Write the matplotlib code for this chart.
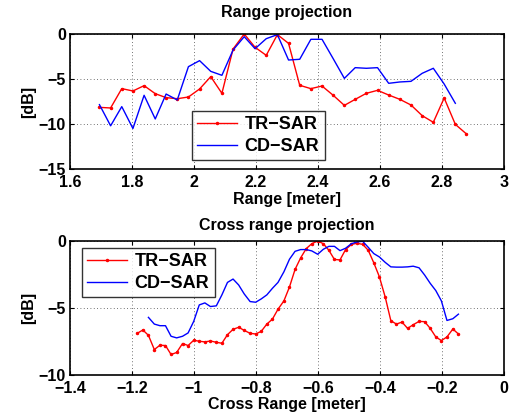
import matplotlib
matplotlib.use("Agg")
import matplotlib.pyplot as plt

plt.rcParams['font.family'] = ['Liberation Sans', 'DejaVu Sans']
plt.rcParams['font.weight'] = 'bold'

# ---- Range projection data ----
range_x = [1.695, 1.731, 1.767, 1.803, 1.839, 1.875, 1.910, 1.946, 1.982, 2.018,
           2.054, 2.090, 2.126, 2.162, 2.197, 2.233, 2.269, 2.305, 2.341, 2.377,
           2.413, 2.449, 2.485, 2.520, 2.556, 2.592, 2.628, 2.664, 2.700, 2.736,
           2.772, 2.807, 2.843, 2.879]
range_tr = [-8.15, -8.22, -6.07, -6.33, -5.74, -6.63, -7.07, -7.19, -7.00, -6.11,
            -4.74, -6.59, -1.67, 0.00, -1.48, -2.37, -0.07, -1.04, -5.70, -6.07,
            -5.78, -6.81, -7.93, -7.26, -6.59, -6.26, -6.78, -7.26, -7.89, -9.07,
            -9.81, -7.11, -10.04, -11.11]
range_cd = [-7.85, -10.20, -8.07, -10.50, -6.81, -9.44, -6.67, -7.33, -3.63, -2.96,
            -4.15, -4.59, -1.78, -0.30, -1.63, -0.52, -0.07, -2.89, -2.81, -0.59,
            -0.59, -2.74, -4.93, -3.74, -3.81, -3.74, -5.48, -5.33, -5.26, -4.37,
            -3.81, -5.56, -7.70]

# ---- Cross range projection data ----
cross_x = [-1.183, -1.165, -1.147, -1.128, -1.110, -1.092, -1.074, -1.056, -1.037, -1.019,
           -1.001, -0.983, -0.965, -0.947, -0.928, -0.910, -0.892, -0.874, -0.856, -0.838,
           -0.819, -0.801, -0.783, -0.765, -0.747, -0.729, -0.710, -0.692, -0.674, -0.656,
           -0.638, -0.620, -0.601, -0.583, -0.565, -0.547, -0.529, -0.511, -0.492, -0.474,
           -0.456, -0.438, -0.420, -0.402, -0.383, -0.365, -0.347, -0.329, -0.311, -0.293,
           -0.274, -0.256, -0.238, -0.220, -0.202, -0.184, -0.165, -0.147]
cross_tr = [-6.89, -6.64, -7.04, -8.10, -7.78, -7.80, -8.47, -8.32, -7.65, -7.80,
            -7.41, -7.48, -7.53, -7.46, -7.56, -7.63, -6.99, -6.59, -6.44, -6.67,
            -6.89, -6.94, -6.74, -6.20, -5.83, -5.09, -4.47, -3.43, -2.12, -1.26,
            -0.57, -0.20, 0.00, -0.20, -0.69, -1.38, -1.41, -0.64, -0.25, -0.17,
            -0.25, -0.69, -1.63, -2.67, -4.20, -5.95, -6.20, -6.05, -6.52, -6.25,
            -6.00, -6.02, -6.52, -7.16, -7.43, -7.16, -6.57, -6.94]
cross_cd = [-5.70, -6.20, -6.32, -6.32, -7.11, -7.23, -7.11, -6.86, -6.00, -4.77,
            -4.62, -4.89, -4.84, -4.02, -3.09, -2.84, -3.28, -3.95, -4.52, -4.57,
            -4.32, -4.02, -3.53, -3.09, -2.30, -1.36, -0.77, -0.64, -0.64, -0.74,
            -0.99, -0.62, -0.40, -0.40, -0.72, -0.54, -0.20, -0.07, -0.02, -0.47,
            -0.94, -1.19, -1.60, -1.93, -1.95, -1.95, -1.93, -1.88, -2.00, -2.54,
            -3.16, -3.70, -4.47, -5.93, -5.80, -5.46]

W, H = 513, 416
fig = plt.figure(figsize=(W / 100, H / 100), dpi=100)

def ax_rect(l, t, r, b):
    return [l / W, 1 - b / H, (r - l) / W, (b - t) / H]

ax1 = fig.add_axes(ax_rect(70, 34, 504, 169))
ax2 = fig.add_axes(ax_rect(70, 241, 504, 375))

fs = 11.5

def style(ax):
    ax.grid(True, linestyle=(0, (1, 3)), color='#444444', linewidth=0.6)
    ax.tick_params(direction='in', top=True, right=True, labelsize=fs, length=3,
                   width=0.8)
    ax.tick_params(axis='x', pad=4)
    ax.tick_params(axis='y', pad=3)
    for s in ax.spines.values():
        s.set_linewidth(1.2)
    for lab in ax.get_xticklabels() + ax.get_yticklabels():
        lab.set_fontweight('bold')

def legend(ax, x, y):
    leg = ax.legend(loc='upper left', bbox_to_anchor=(x, y),
                    fontsize=13, frameon=True, fancybox=False, edgecolor='black',
                    borderpad=0.3, handlelength=2.2, handletextpad=0.4,
                    labelspacing=0.25, borderaxespad=0)
    leg.get_frame().set_linewidth(1.0)
    for t in leg.get_texts():
        t.set_fontweight('bold')
    return leg

ax1.plot(range_x, range_tr, color='red', marker='.', markersize=3, linewidth=1.0, label='TR\u2212SAR')
ax1.plot(range_x[:len(range_cd)], range_cd, color='blue', linewidth=1.0, label='CD\u2212SAR')
ax1.set_xlim(1.6, 3.0)
ax1.set_ylim(-15, 0)
ax1.set_xticks([1.6, 1.8, 2.0, 2.2, 2.4, 2.6, 2.8, 3.0])
ax1.set_xticklabels(['1.6', '1.8', '2', '2.2', '2.4', '2.6', '2.8', '3'])
ax1.set_yticks([-15, -10, -5, 0])
ax1.set_yticklabels(['\u221215', '\u221210', '\u22125', '0'])
ax1.set_title('Range projection', fontsize=fs, fontweight='bold', pad=12)
ax1.set_xlabel('Range [meter]', fontsize=fs, fontweight='bold', labelpad=2)
ax1.set_ylabel('[dB]', fontsize=fs, fontweight='bold', labelpad=2)
style(ax1)
legend(ax1, (192 - 70) / 434, 1 - (111 - 34) / 135)

ax2.plot(cross_x, cross_tr, color='red', marker='.', markersize=3, linewidth=1.0, label='TR\u2212SAR')
ax2.plot(cross_x[2:2 + len(cross_cd)], cross_cd, color='blue', linewidth=1.0, label='CD\u2212SAR')
ax2.set_xlim(-1.4, 0)
ax2.set_ylim(-10, 0)
ax2.set_xticks([-1.4, -1.2, -1.0, -0.8, -0.6, -0.4, -0.2, 0])
ax2.set_xticklabels(['\u22121.4', '\u22121.2', '\u22121', '\u22120.8', '\u22120.6', '\u22120.4', '\u22120.2', '0'])
ax2.set_yticks([-10, -5, 0])
ax2.set_yticklabels(['\u221210', '\u22125', '0'])
ax2.set_title('Cross range projection', fontsize=fs, fontweight='bold', pad=8)
ax2.set_xlabel('Cross Range [meter]', fontsize=fs, fontweight='bold', labelpad=1)
ax2.set_ylabel('[dB]', fontsize=fs, fontweight='bold', labelpad=2)
style(ax2)
legend(ax2, (82 - 70) / 434, 1 - (248 - 241) / 134)

fig.savefig('out.png', dpi=100)
